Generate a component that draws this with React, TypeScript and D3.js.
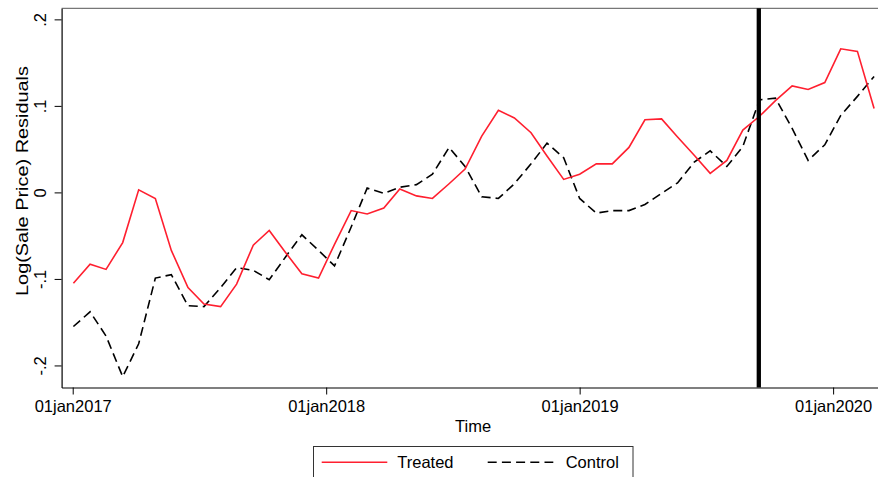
import React, { useEffect, useRef } from "react";
import * as d3 from "d3";

// observation dates (roughly every 23-24 days)
const periods = [
  "2017-01-02", "2017-01-26", "2017-02-18", "2017-03-14", "2017-04-06", "2017-04-30",
  "2017-05-23", "2017-06-16", "2017-07-09", "2017-08-02", "2017-08-25", "2017-09-18",
  "2017-10-11", "2017-11-04", "2017-11-27", "2017-12-21", "2018-01-13", "2018-02-06",
  "2018-03-01", "2018-03-25", "2018-04-17", "2018-05-11", "2018-06-03", "2018-06-27",
  "2018-07-20", "2018-08-13", "2018-09-06", "2018-09-29", "2018-10-23", "2018-11-15",
  "2018-12-09", "2019-01-01", "2019-01-25", "2019-02-17", "2019-03-13", "2019-04-05",
  "2019-04-29", "2019-05-22", "2019-06-15", "2019-07-08", "2019-08-01", "2019-08-24",
  "2019-09-17", "2019-10-10", "2019-11-03", "2019-11-26", "2019-12-20", "2020-01-12",
  "2020-02-05", "2020-02-29",
];

const treated = [
  -0.105, -0.083, -0.089, -0.058, 0.003, -0.007, -0.067, -0.11, -0.129, -0.132,
  -0.106, -0.061, -0.044, -0.07, -0.094, -0.099, -0.06, -0.021, -0.025, -0.018,
  0.004, -0.004, -0.007, 0.01, 0.027, 0.065, 0.095, 0.086, 0.069, 0.042,
  0.015, 0.021, 0.033, 0.033, 0.052, 0.084, 0.085, 0.064, 0.043, 0.022,
  0.037, 0.072, 0.088, 0.106, 0.123, 0.119, 0.127, 0.166, 0.163, 0.097,
];

const control = [
  -0.155, -0.138, -0.166, -0.213, -0.175, -0.099, -0.095, -0.131, -0.132, -0.11,
  -0.087, -0.09, -0.101, -0.074, -0.049, -0.067, -0.085, -0.04, 0.005, -0.001,
  0.006, 0.009, 0.021, 0.052, 0.03, -0.005, -0.007, 0.01, 0.033, 0.057,
  0.04, -0.007, -0.024, -0.021, -0.021, -0.014, -0.001, 0.011, 0.035, 0.048,
  0.03, 0.053, 0.107, 0.109, 0.074, 0.037, 0.055, 0.089, 0.111, 0.134,
];

const xTicks = ["2017-01-01", "2018-01-01", "2019-01-01", "2020-01-01"];
const yTicks = [-0.2, -0.1, 0, 0.1, 0.2];
const yTickLabels = ["-.2", "-.1", "0", ".1", ".2"];
const treatmentDate = "2019-09-16";
const seriesNames = ["Treated", "Control"];

const FONT = "'Liberation Sans', Arial, Helvetica, sans-serif";

const App = () => {
  const ref = useRef(null);

  const width = 878;
  const height = 477;
  const plot = { left: 61.6, right: 884.5, top: 8.3, bottom: 387.5 };

  useEffect(() => {
    const parse = d3.timeParse("%Y-%m-%d");
    const svg = d3.select(ref.current);
    svg.selectAll("*").remove();

    const xScale = d3.scaleTime()
      .domain([parse("2016-12-16"), parse("2020-03-15")])
      .range([plot.left, plot.right]);

    const yScale = d3.scaleLinear()
      .domain([-0.2255, 0.2128])
      .range([plot.bottom, plot.top]);

    svg.append("rect")
      .attr("width", width)
      .attr("height", height)
      .attr("fill", "white");

    // top border of plot region
    svg.append("line")
      .attr("x1", plot.left).attr("x2", width)
      .attr("y1", plot.top).attr("y2", plot.top)
      .attr("stroke", "#555")
      .attr("stroke-width", 1);

    const fmt = d3.timeFormat("%d%b%Y");

    const xAxis = svg.append("g")
      .attr("transform", `translate(0, ${plot.bottom})`)
      .call(d3.axisBottom(xScale)
        .tickValues(xTicks.map((d) => parse(d)))
        .tickFormat((d) => fmt(d).toLowerCase())
        .tickSize(7)
        .tickSizeOuter(0)
        .tickPadding(6));
    xAxis.select(".domain").attr("stroke", "#000").attr("stroke-width", 1.2);
    xAxis.selectAll("text")
      .attr("font-family", FONT)
      .attr("font-size", 16.5)
      .attr("fill", "#000");

    const yAxis = svg.append("g")
      .attr("transform", `translate(${plot.left}, 0)`)
      .call(d3.axisLeft(yScale)
        .tickValues(yTicks)
        .tickFormat((d, i) => yTickLabels[i])
        .tickSize(7)
        .tickSizeOuter(0));
    yAxis.select(".domain").attr("stroke", "#000").attr("stroke-width", 1.2);
    yAxis.selectAll("text")
      .attr("font-family", FONT)
      .attr("font-size", 16.5)
      .attr("fill", "#000")
      .attr("text-anchor", "middle")
      .attr("x", 0)
      .attr("y", -15.5)
      .attr("dy", null)
      .attr("transform", "rotate(-90)");

    // axis titles
    svg.append("text")
      .attr("x", (plot.left + plot.right) / 2)
      .attr("y", 431.5)
      .attr("text-anchor", "middle")
      .attr("font-family", FONT)
      .attr("font-size", 16.5)
      .text("Time");

    svg.append("text")
      .attr("transform", "translate(28, 181) rotate(-90)")
      .attr("text-anchor", "middle")
      .attr("font-family", FONT)
      .attr("font-size", 16.5)
      .attr("textLength", 230)
      .attr("lengthAdjust", "spacingAndGlyphs")
      .text("Log(Sale Price) Residuals");

    const line = d3.line()
      .x((d) => xScale(parse(d[0])))
      .y((d) => yScale(d[1]));

    svg.append("path")
      .datum(periods.map((p, i) => [p, control[i]]))
      .attr("d", line)
      .attr("fill", "none")
      .attr("stroke", "#000")
      .attr("stroke-width", 1.6)
      .attr("stroke-dasharray", "9,5");

    svg.append("path")
      .datum(periods.map((p, i) => [p, treated[i]]))
      .attr("d", line)
      .attr("fill", "none")
      .attr("stroke", "#ff1f2f")
      .attr("stroke-width", 1.6);

    // treatment line
    svg.append("line")
      .attr("x1", xScale(parse(treatmentDate)))
      .attr("x2", xScale(parse(treatmentDate)))
      .attr("y1", plot.top)
      .attr("y2", plot.bottom)
      .attr("stroke", "#000")
      .attr("stroke-width", 4.3);

    // legend
    const legend = svg.append("g");
    legend.append("rect")
      .attr("x", 313.5).attr("y", 446.5)
      .attr("width", 319.5).attr("height", 45)
      .attr("fill", "white")
      .attr("stroke", "#333")
      .attr("stroke-width", 1);
    legend.append("line")
      .attr("x1", 321.7).attr("x2", 387.3)
      .attr("y1", 462.3).attr("y2", 462.3)
      .attr("stroke", "#ff1f2f")
      .attr("stroke-width", 1.6);
    legend.append("line")
      .attr("x1", 487.7).attr("x2", 553.3)
      .attr("y1", 462.3).attr("y2", 462.3)
      .attr("stroke", "#000")
      .attr("stroke-width", 1.6)
      .attr("stroke-dasharray", "9,5.2");
    legend.append("text")
      .attr("x", 397.3).attr("y", 467.7)
      .attr("font-family", FONT)
      .attr("font-size", 16.5)
      .text(seriesNames[0]);
    legend.append("text")
      .attr("x", 565.7).attr("y", 467.7)
      .attr("font-family", FONT)
      .attr("font-size", 16.5)
      .text(seriesNames[1]);
  }, []);

  return (
    <svg
      ref={ref}
      width={width}
      height={height}
      style={{ position: "absolute", left: 0, top: 0, display: "block" }}
    ></svg>
  );
};

export default App;
